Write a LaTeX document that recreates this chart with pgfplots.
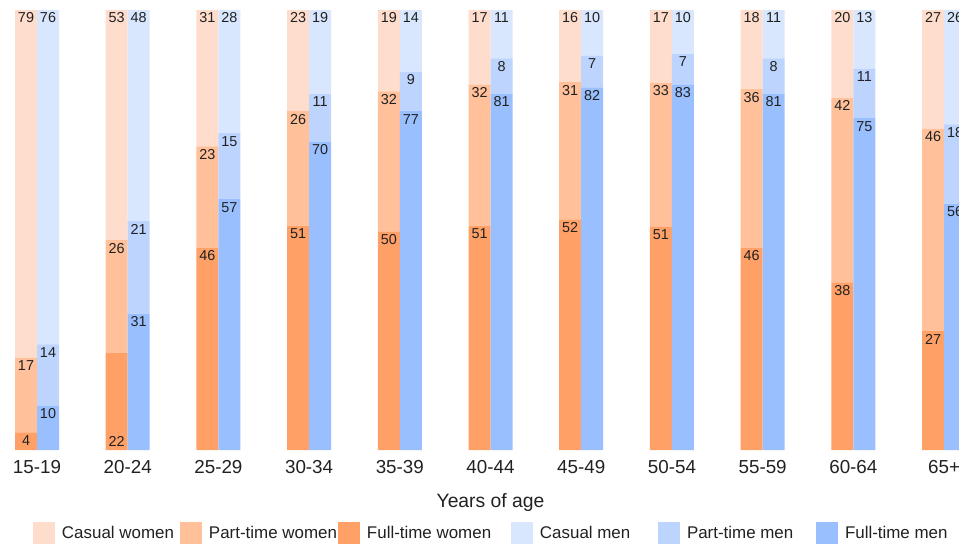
\documentclass[border=0pt]{standalone}
\usepackage{pgfplots}
\pgfplotsset{compat=1.18}
\usepackage{pgfplotstable}
\usepackage{fontspec}
\setmainfont{Liberation Sans}

\definecolor{cw}{RGB}{255,221,204}
\definecolor{pw}{RGB}{255,192,154}
\definecolor{fw}{RGB}{255,160,102}
\definecolor{cm}{RGB}{217,231,254}
\definecolor{pm}{RGB}{188,212,254}
\definecolor{fm}{RGB}{153,191,255}
\definecolor{txt}{RGB}{33,33,33}

% heights (ft, pt, cas) and printed labels (ftl, ptl, casl)
\pgfplotstableread{
x  ft   ftl pt   ptl cas  casl
0  4    4   17   17  79   79
1  22   22  25.7 26  52.3 53
2  46   46  23   23  31   31
3  51   51  26   26  23   23
4  49.6 50  31.9 32  18.5 19
5  51   51  32   32  17   17
6  52.4 52  31.2 31  16.4 16
7  50.7 51  32.8 33  16.5 17
8  46   46  36   36  18   18
9  38   38  42   42  20   20
10 27   27  46   46  27   27
}\women
\pgfplotstableread{
x  ft   ftl pt   ptl cas  casl
0  10   10  14   14  76   76
1  31   31  21   21  48   48
2  57   57  15   15  28   28
3  70   70  11   11  19   19
4  77   77  9    9   14   14
5  81   81  8    8   11   11
6  82.4 82  7.2  7   10.4 10
7  83   83  7    7   10   10
8  81   81  8    8   11   11
9  75.4 75  11.2 11  13.4 13
10 56   56  18   18  26   26
}\men

% stacked labels sit at the middle of a segment: lift them to its top
\pgfplotsset{
  base/.style={
    at={(0pt,70.5pt)}, anchor=south west,
    scale only axis, width=719.25pt, height=330pt,
    xmin=-0.408, xmax=10.165, ymin=0, ymax=100,
    axis line style={draw=none}, major tick length=0pt,
    ytick=\empty,
    ybar stacked, bar width=16.5pt,
    point meta=explicit,
    nodes near coords,
    visualization depends on=rawy \as \ry,
    every node near coord/.append style={anchor=north, inner sep=2pt,
      yshift={\ry*1.65pt},
      font=\fontsize{10.8}{12}\selectfont, text=txt},
    /pgf/number format/assume math mode=true,
    clip=true,
  },
}

\begin{document}
\begin{tikzpicture}
\begin{axis}[base, bar shift=-8.25pt,
  xtick={0,...,10},
  xticklabels={15-19,20-24,25-29,30-34,35-39,40-44,45-49,50-54,55-59,60-64,65+},
  xticklabel style={anchor=base, yshift=-17.25pt, font=\fontsize{14.1}{16}\selectfont, text=txt},
  xlabel={Years of age},
  xlabel style={at={(axis description cs:0.5115,0)}, anchor=base, yshift=-42.75pt,
    font=\fontsize{14.5}{16}\selectfont, text=txt},
]
% the 20-24 label sits at the foot of its bar
\addplot[fill=fw, draw=none,
  visualization depends on={\coordindex \as \ci},
  every node near coord/.append style={yshift={-60pt*(\ci==1)}}]
  table[x=x, y=ft, meta=ftl] {\women};
\addplot[fill=pw, draw=none] table[x=x, y=pt, meta=ptl] {\women};
\addplot[fill=cw, draw=none] table[x=x, y=cas, meta=casl] {\women};
\end{axis}

\begin{axis}[base, bar shift=8.25pt, xtick=\empty,
  legend image code/.code={\fill[#1] (0pt,-8.25pt) rectangle (16.5pt,8.25pt);},
  legend columns=6,
  legend style={at={(axis description cs:0.034411,-0.18864)}, anchor=west,
    draw=none, inner sep=0pt, outer sep=0pt, column sep=0pt,
    nodes={inner sep=0pt, text=txt}, font=\fontsize{12.7}{15}\selectfont},
  legend cell align=left,
]
\addlegendimage{fill=cw, draw=none}
\addlegendentry{\makebox[93.75pt][l]{\hspace{5.25pt}Casual women}}
\addlegendimage{fill=pw, draw=none}
\addlegendentry{\makebox[102pt][l]{\hspace{5.25pt}Part-time women}}
\addlegendimage{fill=fw, draw=none}
\addlegendentry{\makebox[113.25pt][l]{\hspace{5.25pt}Full-time women}}
\addlegendimage{fill=cm, draw=none}
\addlegendentry{\makebox[93.75pt][l]{\hspace{5.25pt}Casual men}}
\addlegendimage{fill=pm, draw=none}
\addlegendentry{\makebox[102pt][l]{\hspace{5.25pt}Part-time men}}
\addlegendimage{fill=fm, draw=none}
\addlegendentry{\makebox[90pt][l]{\hspace{5.25pt}Full-time men}}
\addplot[fill=fm, draw=none, forget plot] table[x=x, y=ft, meta=ftl] {\men};
\addplot[fill=pm, draw=none, forget plot] table[x=x, y=pt, meta=ptl] {\men};
\addplot[fill=cm, draw=none, forget plot] table[x=x, y=cas, meta=casl] {\men};
\end{axis}
\pgfresetboundingbox
\path[use as bounding box] (0pt,0pt) rectangle (719.25pt,408pt);
\end{tikzpicture}
\end{document}
